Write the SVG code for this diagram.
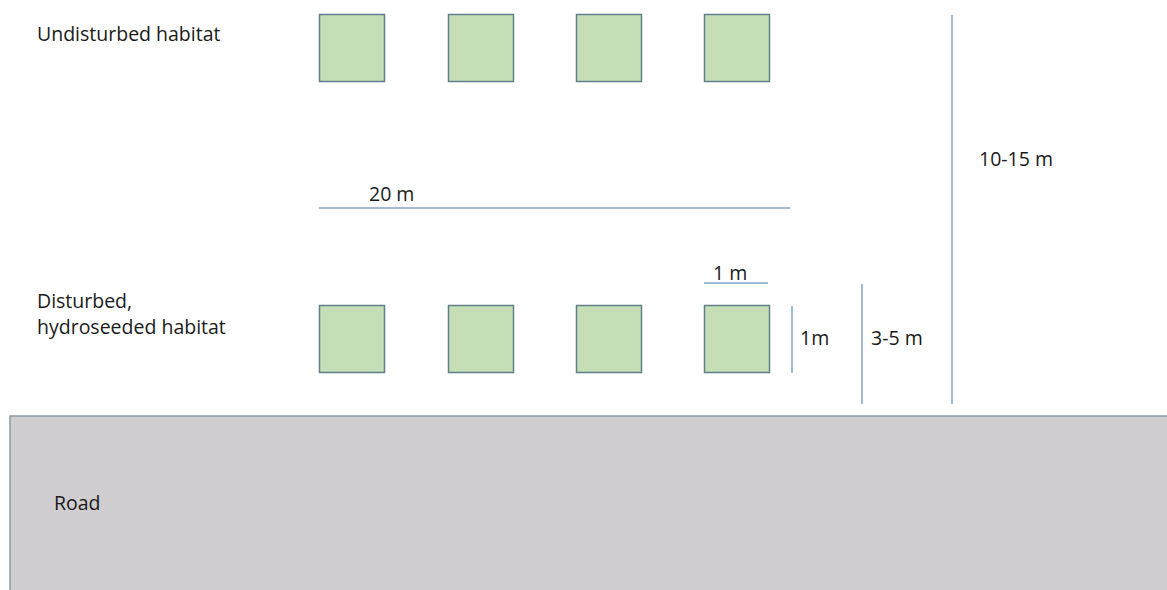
<svg xmlns="http://www.w3.org/2000/svg" width="1167" height="590" viewBox="0 0 1167 590">
<style>
.plot{fill:#c5deb5;stroke:#5f7f8a;stroke-width:1.5}
.dim{stroke:#7ea6c8;stroke-width:1.5;fill:none}
text{font-family:"Open Sans","Liberation Sans",sans-serif;font-size:19.5px;fill:#1a1a1a}
</style>
<rect width="1167" height="590" fill="#fff"/>
<g id="road"><rect x="10" y="416" width="1160" height="180" fill="#cfcdcf" stroke="#8a9aa8" stroke-width="1.5"/><text x="54" y="510">Road</text></g>
<g id="labels">
<text x="37" y="41">Undisturbed habitat</text>
<text x="37" y="308">Disturbed,</text>
<text x="37" y="334">hydroseeded habitat</text>
</g>
<g id="plots-top">
<rect class="plot" x="319.5" y="14.5" width="65" height="67"/>
<rect class="plot" x="448.5" y="14.5" width="65" height="67"/>
<rect class="plot" x="576.5" y="14.5" width="65" height="67"/>
<rect class="plot" x="704.5" y="14.5" width="65" height="67"/>
</g>
<g id="plots-bottom">
<rect class="plot" x="319.5" y="305.5" width="65" height="67"/>
<rect class="plot" x="448.5" y="305.5" width="65" height="67"/>
<rect class="plot" x="576.5" y="305.5" width="65" height="67"/>
<rect class="plot" x="704.5" y="305.5" width="65" height="67"/>
</g>
<g id="connectors">
<line class="dim" x1="319" y1="208" x2="790" y2="208"/>
<line class="dim" x1="704" y1="283" x2="768" y2="283"/>
<line class="dim" x1="792" y1="306" x2="792" y2="373"/>
<line class="dim" x1="862" y1="284" x2="862" y2="404"/>
<line class="dim" x1="952" y1="15" x2="952" y2="404"/>
</g>
<g id="dim-labels">
<text x="369" y="201">20 m</text>
<text x="713" y="280">1 m</text>
<text x="800" y="345">1m</text>
<text x="871" y="345">3-5 m</text>
<text x="979" y="166">10-15 m</text>
</g>
</svg>
